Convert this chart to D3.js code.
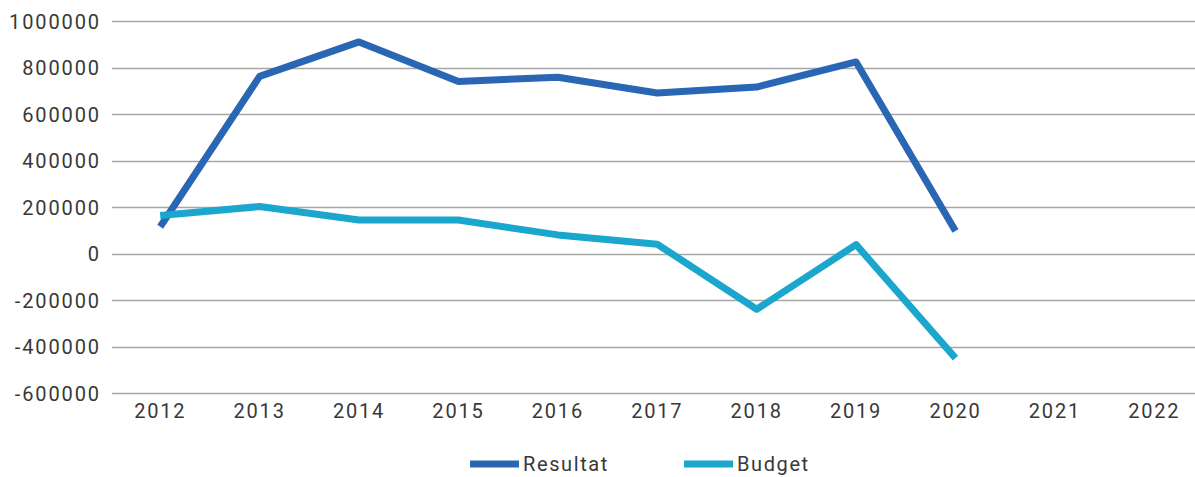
<!DOCTYPE html>
<html><head><meta charset="utf-8">
<script src="https://cdn.jsdelivr.net/npm/d3@7"></script>
<style>body{margin:0;background:#fff}svg{display:block}text{font-family:Roboto,sans-serif;fill:#383838}</style>
</head><body><svg id="c" width="1195" height="477"></svg>
<script>
const years = ["2012","2013","2014","2015","2016","2017","2018","2019","2020","2021","2022"];
const resultat = [115000,762000,910000,740000,758000,690000,716000,824000,97000,null,null];
const budget = [163000,202000,144000,144000,80000,40000,-240000,38000,-450000,null,null];
const yTicks = [1000000,800000,600000,400000,200000,0,-200000,-400000,-600000];
const seriesNames = ["Resultat","Budget"];
const colors = ["#2966b3","#1ba7cd"];

const svg = d3.select("#c");
const W = 1195;
const x = d3.scaleBand().domain(years).range([110.5,1204]);
const y = d3.scaleLinear().domain([-600000,1000000]).range([393,21]);

const g = svg.append("g");
g.selectAll("line.grid").data(yTicks).join("line")
 .attr("x1",112).attr("x2",W).attr("y1",d=>Math.round(y(d))+0.5).attr("y2",d=>Math.round(y(d))+0.5)
 .attr("stroke","#a6a6a6").attr("stroke-width",1.3);

const yAxis = d3.axisLeft(y).tickValues(yTicks).tickSize(0).tickPadding(0).tickFormat(d=>d3.format("d")(d).replace("−","-"));
svg.append("g").attr("transform","translate(101,0)").call(yAxis)
 .call(a=>a.select(".domain").remove())
 .selectAll("text").style("font-size","20px").attr("dy","0.35em").style("letter-spacing","1.9px");

const xAxis = d3.axisBottom(x).tickSize(0).tickPadding(0);
svg.append("g").attr("transform","translate(0,404)").call(xAxis)
 .call(a=>a.select(".domain").remove())
 .selectAll("text").style("font-size","20px").attr("dy","0.71em").style("letter-spacing","1.8px");

const line = d3.line().defined(d=>d!=null).x((d,i)=>x(years[i])+x.bandwidth()/2).y(d=>y(d));
[resultat,budget].forEach((s,k)=>{
  svg.append("path").datum(s).attr("d",line).attr("fill","none")
   .attr("stroke",colors[k]).attr("stroke-width",7).attr("stroke-linejoin","round").attr("stroke-linecap","butt");
});

const legX = [470,684];
seriesNames.forEach((n,k)=>{
  svg.append("line").attr("x1",legX[k]).attr("x2",legX[k]+49).attr("y1",464).attr("y2",464)
   .attr("stroke",colors[k]).attr("stroke-width",7);
  svg.append("text").attr("x",legX[k]+53).attr("y",464).attr("dy","0.35em").style("font-size","20px").style("letter-spacing","1.6px").text(n);
});
</script></body></html>
